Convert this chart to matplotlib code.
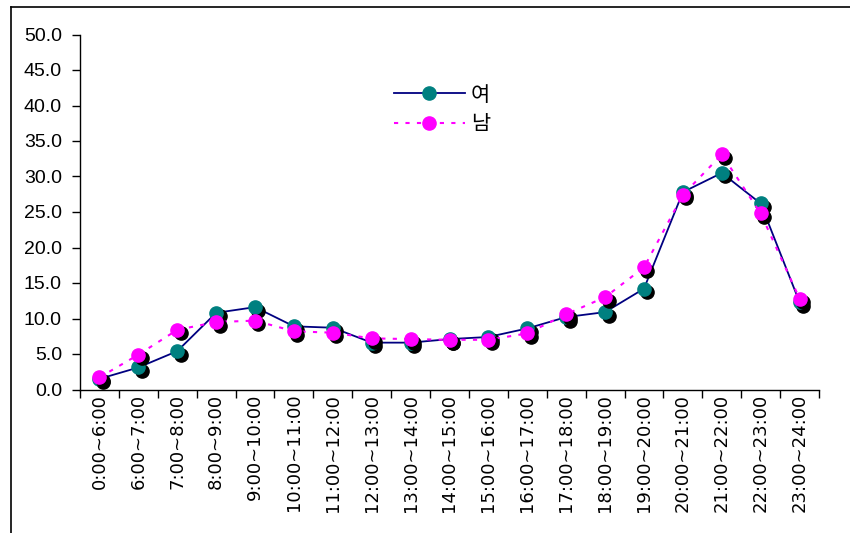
import matplotlib
matplotlib.use("Agg")
import matplotlib.pyplot as plt
import matplotlib.transforms as mtransforms
from matplotlib.lines import Line2D

plt.rcParams['font.family'] = ['Liberation Sans', 'Noto Sans CJK KR', 'DejaVu Sans']

categories = ["0:00~6:00", "6:00~7:00", "7:00~8:00", "8:00~9:00", "9:00~10:00",
              "10:00~11:00", "11:00~12:00", "12:00~13:00", "13:00~14:00", "14:00~15:00",
              "15:00~16:00", "16:00~17:00", "17:00~18:00", "18:00~19:00", "19:00~20:00",
              "20:00~21:00", "21:00~22:00", "22:00~23:00", "23:00~24:00"]
female = [1.5, 3.1, 5.4, 10.8, 11.6, 8.9, 8.7, 6.6, 6.6, 7.1, 7.4, 8.6, 10.2, 10.9, 14.2,
          27.8, 30.5, 26.2, 12.3]
male = [1.7, 4.9, 8.4, 9.5, 9.7, 8.2, 8.0, 7.2, 7.1, 7.0, 7.0, 7.9, 10.6, 13.0, 17.2,
        27.4, 33.1, 24.8, 12.8]
series_names = ["여", "남"]
yticks = [0, 5, 10, 15, 20, 25, 30, 35, 40, 45, 50]

fig = plt.figure(figsize=(8.5, 5.33), dpi=100)
ax = fig.add_axes([80/850, 1-389.5/533, (819-80)/850, (389.5-34.5)/533])

x = list(range(len(categories)))
shadow = mtransforms.offset_copy(ax.transData, fig=fig, x=2.5, y=-2.5, units='points')

ms = 9.5
# female series
ax.plot(x, female, color='#000080', lw=1.3, zorder=2)
ax.plot(x, female, ls='none', marker='o', ms=ms, color='black', mec='black', transform=shadow, zorder=3)
ax.plot(x, female, ls='none', marker='o', ms=ms, color='#008080', mec='#008080', zorder=4)
# male series
ax.plot(x, male, color='#FF00FF', lw=1.5, ls=(0, (2, 3.5)), zorder=5)
ax.plot(x, male, ls='none', marker='o', ms=ms, color='black', mec='black', transform=shadow, zorder=6)
ax.plot(x, male, ls='none', marker='o', ms=ms, color='#FF00FF', mec='#FF00FF', zorder=7)

ax.set_xlim(-0.5, len(categories) - 0.5)
ax.set_ylim(0, 50)
ax.set_yticks(yticks)
ax.set_yticklabels([f"{v:.1f}" for v in yticks], fontsize=14)
ax.set_xticks([i - 0.5 for i in range(len(categories) + 1)])
ax.set_xticklabels([])
ax.set_xticks(x, minor=True)
ax.set_xticklabels(categories, minor=True, rotation=90, fontsize=13, family='DejaVu Sans')
ax.tick_params(axis='x', which='minor', length=0, pad=3)
ax.tick_params(axis='x', which='major', length=6, direction='out', width=1)
ax.tick_params(axis='y', length=6, direction='out', width=1, pad=7)
for s in ['top', 'right']:
    ax.spines[s].set_visible(False)
for s in ['left', 'bottom']:
    ax.spines[s].set_linewidth(1)

handles = [
    Line2D([], [], color='#000080', lw=1.3, marker='o', ms=ms, mfc='#008080', mec='#008080'),
    Line2D([], [], color='#FF00FF', lw=1.5, ls=(0, (2, 3.5)), marker='o', ms=ms, mfc='#FF00FF', mec='#FF00FF'),
]
fig.legend(handles, series_names, loc='upper left', bbox_to_anchor=(375/850, 1-65/533),
           frameon=False, handlelength=3.4, handletextpad=0.3, labelspacing=0.35,
           prop={'family': ['Noto Sans CJK KR', 'DejaVu Sans'], 'size': 15})

# outer frame lines (top and left)
fig.add_artist(Line2D([10.5/850, 1.0], [1-6.5/533, 1-6.5/533], transform=fig.transFigure, color='black', lw=1.2))
fig.add_artist(Line2D([10.5/850, 10.5/850], [0, 1-6.5/533], transform=fig.transFigure, color='black', lw=1.2))

fig.savefig("out.png", dpi=100)
